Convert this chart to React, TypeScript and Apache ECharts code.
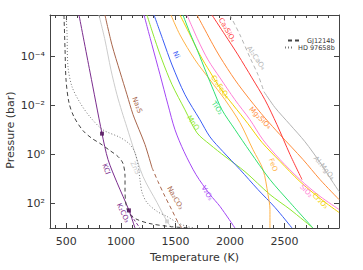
import React, { useEffect, useRef } from "react";
import * as echarts from "echarts";

// ---- axis ranges & ticks ----
const T_MIN = 350;
const T_MAX = 3000;
const P_MIN = 2e-6;
const P_MAX = 1000;
const T_MAJOR = [500, 1000, 1500, 2000, 2500];
const T_MINOR = [400, 600, 700, 800, 900, 1100, 1200, 1300, 1400, 1600, 1700, 1800, 1900, 2100, 2200, 2300, 2400, 2600, 2700, 2800, 2900];
const P_EXP_TICKS = [-4, -2, 0, 2];

// ---- P-T profiles: [T (K), P (bar)] ----
const GJ1214B = [[478, 2e-6], [488, 5.3e-5], [497, 8.9e-4], [524, 7.6e-3], [570, 2.9e-2], [653, 0.106], [735, 0.22], [808, 0.35], [900, 0.69], [973, 1.2], [1019, 2.3], [1038, 7.9], [1038, 32], [1047, 110], [1074, 257], [1148, 447], [1267, 661], [1450, 871], [1634, 1000]];
const HD97658B = [[497, 2e-6], [506, 1.1e-5], [515, 2.6e-4], [552, 1.7e-3], [625, 7.6e-3], [717, 2.9e-2], [836, 9.8e-2], [992, 0.2], [1084, 0.39], [1129, 0.83], [1157, 2.6], [1175, 10.5], [1194, 35], [1239, 91], [1331, 209], [1423, 339], [1514, 589], [1606, 871], [1680, 1000]];

// ---- condensation curves: [T (K), P (bar)] ----
const KCL = [[616, 2e-6], [717, 4.3e-4], [827, 0.14], [882, 1.6], [964, 13.8], [1074, 190], [1129, 1000]];
const K2CO3 = [[1074, 190], [1120, 447], [1175, 1000]];
const ZNS = [[799, 2e-6], [854, 2.1e-5], [909, 3.5e-4], [964, 3.6e-3], [1010, 1.8e-2], [1056, 7.9e-2], [1111, 0.48], [1203, 7.9], [1331, 91], [1423, 537], [1469, 1000]];
const NA2S = [[854, 2e-6], [918, 3.3e-5], [992, 4.2e-4], [1056, 3.6e-3], [1111, 2.3e-2], [1166, 9.5e-2], [1221, 0.39], [1285, 3.4]];
const NA2CO3 = [[1285, 3.4], [1340, 12.6], [1404, 51], [1469, 190], [1524, 589], [1560, 1000]];
const V2O5 = [[1212, 2e-6], [1285, 3.3e-5], [1359, 5.5e-4], [1432, 9.3e-3], [1496, 9.7e-2], [1579, 0.76], [1689, 6.6], [1817, 43], [1909, 132], [2046, 1000]];
const MNO = [[1239, 2e-6], [1313, 2.1e-5], [1377, 1.36e-4], [1469, 1.4e-3], [1588, 1.5e-2], [1698, 0.13], [1817, 0.39], [1955, 1.2], [2138, 5.0], [2367, 43], [2551, 174], [2761, 1000]];
const NI = [[1304, 2e-6], [1386, 2.1e-5], [1469, 2.2e-4], [1588, 3.6e-3], [1725, 3.8e-2], [1817, 0.19], [1936, 0.76], [2092, 4.1], [2257, 27], [2413, 145], [2569, 1000]];
const FEO = [[1459, 2e-6], [1542, 1.3e-5], [1680, 1.36e-4], [1817, 8.9e-4], [1955, 5.8e-3], [2092, 5e-2], [2211, 0.63], [2303, 4.1], [2349, 43], [2367, 174], [2367, 1000]];
const TIO2 = [[1569, 2e-6], [1634, 1.1e-5], [1707, 6.4e-5], [1780, 4.2e-4], [1854, 2.7e-3], [1927, 1.5e-2], [2046, 9.5e-2], [2184, 0.76], [2367, 10.5], [2551, 91], [2761, 1000]];
const CR2FEO4 = [[1542, 2e-6], [1634, 1.3e-5], [1725, 8.5e-5], [1817, 4.2e-4], [1918, 2.2e-3], [2028, 9.3e-3], [2165, 5.5e-2], [2294, 0.32], [2459, 1.9], [2642, 12.7], [2826, 62], [3000, 232]];
const SIO2 = [[1606, 2e-6], [1707, 2.1e-5], [1799, 1.36e-4], [1909, 7.4e-4], [2046, 5.8e-3], [2184, 3.8e-2], [2303, 0.25], [2459, 1.6], [2642, 10.5], [2826, 51], [3000, 174]];
const MG2SIO4 = [[1698, 2e-6], [1771, 8.1e-6], [1845, 3.3e-5], [1909, 1.03e-4], [2046, 8.9e-4], [2184, 5.8e-3], [2321, 3.2e-2], [2459, 0.155], [2670, 1.6], [2826, 10.5], [3000, 69]];
const CA2SIO4 = [[1835, 2e-6], [1955, 1.3e-5], [2074, 8.5e-5], [2202, 7.4e-4], [2321, 5.8e-3], [2431, 6e-2], [2551, 1.0], [2661, 10.5]];
const AL2CAO4 = [[2000, 2e-6], [2092, 1.3e-5], [2184, 1.1e-4], [2257, 5.5e-4], [2312, 2.7e-3]];
const AL2MGO4 = [[2312, 2.7e-3], [2413, 1.2e-2], [2551, 6e-2], [2688, 0.3], [2826, 2.1], [2945, 13.8], [3000, 32]];

// ---- cloud-base markers ----
const KCL_BASES = [[827, 0.14], [1074, 190]];
const ZNS_BASES = [[1423, 537]];

// ---- colours ----
const C = {
  gj: "#444444",
  hd: "#777777",
  kcl: "#7b2d8e",
  kclMark: "#4a0a55",
  zns: "#cccccc",
  na: "#a8664c",
  v: "#a447f5",
  mno: "#8fe830",
  ni: "#3a5cf5",
  feo: "#ffb347",
  tio2: "#30e070",
  cr: "#f2d000",
  sio2: "#ff7fd6",
  mg: "#ff8c3a",
  ca: "#ff3b3b",
  al: "#b4b4b4",
  axis: "#444444",
  text: "#333333",
};

const CURVES = [
  { name: "ZnS", data: ZNS, color: C.zns, dash: "solid" },
  { name: "Na2S", data: NA2S, color: C.na, dash: "solid" },
  { name: "Na2CO3", data: NA2CO3, color: C.na, dash: [4, 3] },
  { name: "KCl", data: KCL, color: C.kcl, dash: "solid" },
  { name: "K2CO3", data: K2CO3, color: C.kcl, dash: [3, 2] },
  { name: "V2O5", data: V2O5, color: C.v, dash: "solid" },
  { name: "MnO", data: MNO, color: C.mno, dash: "solid" },
  { name: "Ni", data: NI, color: C.ni, dash: "solid" },
  { name: "Cr2FeO4", data: CR2FEO4, color: C.cr, dash: "solid" },
  { name: "FeO", data: FEO, color: C.feo, dash: "solid" },
  { name: "TiO2", data: TIO2, color: C.tio2, dash: "solid" },
  { name: "SiO2", data: SIO2, color: C.sio2, dash: "solid" },
  { name: "Mg2SiO4", data: MG2SIO4, color: C.mg, dash: "solid" },
  { name: "Ca2SiO4", data: CA2SIO4, color: C.ca, dash: "solid" },
  { name: "Al2CaO4", data: AL2CAO4, color: C.al, dash: [4, 3] },
  { name: "Al2MgO4", data: AL2MGO4, color: C.al, dash: "solid" },
];

// curve annotations (pixel layout)
const LABELS = [
  { text: "KCl", x: 106, y: 169, rot: -70, color: C.kcl },
  { text: "K₂CO₃", x: 123, y: 213, rot: -65, color: C.kcl },
  { text: "ZnS", x: 135, y: 168, rot: -65, color: C.zns },
  { text: "Na₂S", x: 137, y: 105, rot: -68, color: C.na },
  { text: "Na₂CO₃", x: 175, y: 198, rot: -60, color: C.na },
  { text: "V₂O₅", x: 207, y: 193, rot: -60, color: C.v },
  { text: "MnO", x: 193, y: 123, rot: -55, color: C.mno },
  { text: "Ni", x: 176, y: 55, rot: -65, color: C.ni },
  { text: "Cr₂FeO₄", x: 220, y: 87, rot: -55, color: C.cr },
  { text: "TiO₂", x: 217, y: 108, rot: -55, color: C.tio2 },
  { text: "Ca₂SiO₄", x: 227, y: 30, rot: -60, color: C.ca },
  { text: "Al₂CaO₄", x: 256, y: 58, rot: -55, color: C.al },
  { text: "Mg₂SiO₄", x: 260, y: 118, rot: -45, color: C.mg },
  { text: "FeO", x: 273, y: 165, rot: -70, color: C.feo },
  { text: "SiO₂", x: 306, y: 191, rot: -45, color: C.sio2 },
  { text: "Cr₂O₃", x: 320, y: 201, rot: -45, color: C.cr },
  { text: "Al₂MgO₄", x: 324, y: 168, rot: -50, color: C.al },
];

const SUP: Record<string, string> = { "-": "⁻", "0": "⁰", "1": "¹", "2": "²", "3": "³", "4": "⁴", "5": "⁵", "6": "⁶", "7": "⁷", "8": "⁸", "9": "⁹" };
const toSup = (v: number) => String(Math.round(v)).split("").map((c) => SUP[c] || c).join("");

const FONT = "DejaVu Sans";

export default function App() {
  const ref = useRef<HTMLDivElement>(null);
  useEffect(() => {
    if (!ref.current) return;
    const chart = echarts.init(ref.current, null, { renderer: "svg" });
    const axisLine = { show: true, onZero: false, lineStyle: { color: C.axis, width: 1 } };
    const noLine = { show: false, onZero: false };
    const xBase = { type: "value", min: T_MIN, max: T_MAX, splitLine: { show: false } };
    const yExtent = { min: Math.log10(P_MIN), max: Math.log10(P_MAX), inverse: true, splitLine: { show: false } };
    const tickStyle = { color: C.axis, width: 1 };

    const series: any[] = CURVES.map((c) => ({
      type: "line",
      name: c.name,
      data: c.data,
      xAxisIndex: 0,
      yAxisIndex: 0,
      symbol: "none",
      smooth: 0.3,
      silent: true,
      lineStyle: { color: c.color, width: 1, type: c.dash },
      itemStyle: { color: c.color },
      z: 2,
    }));
    series.push(
      {
        type: "line",
        name: "GJ1214b",
        data: GJ1214B,
        xAxisIndex: 0,
        yAxisIndex: 0,
        symbol: "none",
        smooth: 0.3,
        silent: true,
        lineStyle: { color: C.gj, width: 1, type: [4, 3] },
        itemStyle: { color: C.gj },
        z: 3,
      },
      {
        type: "line",
        name: "HD 97658b",
        data: HD97658B,
        xAxisIndex: 0,
        yAxisIndex: 0,
        symbol: "none",
        smooth: 0.3,
        silent: true,
        lineStyle: { color: C.hd, width: 1, type: [1, 2] },
        itemStyle: { color: C.hd },
        z: 3,
      },
      {
        type: "scatter",
        name: "KCl cloud base",
        data: KCL_BASES,
        xAxisIndex: 0,
        yAxisIndex: 0,
        symbol: "rect",
        symbolSize: 4,
        itemStyle: { color: C.kclMark },
        silent: true,
        z: 5,
      },
      {
        type: "scatter",
        name: "ZnS cloud base",
        data: ZNS_BASES,
        xAxisIndex: 0,
        yAxisIndex: 0,
        symbol: "rect",
        symbolSize: 4,
        itemStyle: { color: C.zns },
        silent: true,
        z: 5,
      }
    );

    const legendCommon = {
      orient: "vertical",
      padding: 0,
      itemHeight: 6,
      itemGap: 0,
      selectedMode: false,
      itemStyle: { color: "rgba(0,0,0,0)", borderWidth: 0, opacity: 0 },
      textStyle: { fontSize: 6.5, fontFamily: FONT, color: C.text },
    };

    const option: any = {
      animation: false,
      backgroundColor: "#ffffff",
      grid: { left: 50, top: 15, right: 24, bottom: 42, containLabel: false },
      xAxis: [
        {
          ...xBase,
          position: "bottom",
          axisLine,
          axisTick: { show: true, inside: true, length: 5, customValues: T_MAJOR, lineStyle: tickStyle },
          axisLabel: {
            show: true,
            customValues: T_MAJOR,
            margin: 8,
            fontSize: 11,
            fontFamily: FONT,
            color: C.text,
            formatter: (v: number) => String(v),
          },
          name: "Temperature (K)",
          nameLocation: "middle",
          nameGap: 21,
          nameTextStyle: { fontSize: 11, fontFamily: FONT, color: C.text },
        },
        {
          ...xBase,
          position: "bottom",
          axisLine: noLine,
          axisTick: { show: true, inside: true, length: 3, customValues: T_MINOR, lineStyle: tickStyle },
          axisLabel: { show: false },
        },
        {
          ...xBase,
          position: "top",
          axisLine,
          axisTick: { show: true, inside: true, length: 5, customValues: T_MAJOR, lineStyle: tickStyle },
          axisLabel: { show: false },
        },
        {
          ...xBase,
          position: "top",
          axisLine: noLine,
          axisTick: { show: true, inside: true, length: 3, customValues: T_MINOR, lineStyle: tickStyle },
          axisLabel: { show: false },
        },
      ],
      yAxis: [
        {
          type: "log",
          logBase: 10,
          min: P_MIN,
          max: P_MAX,
          inverse: true,
          axisLine: noLine,
          axisTick: { show: false },
          axisLabel: { show: false },
          splitLine: { show: false },
        },
        {
          type: "value",
          ...yExtent,
          position: "left",
          axisLine,
          axisTick: { show: true, inside: true, length: 5, customValues: P_EXP_TICKS, lineStyle: tickStyle },
          axisLabel: {
            show: true,
            customValues: P_EXP_TICKS,
            margin: 5,
            fontSize: 11,
            fontFamily: FONT,
            color: C.text,
            formatter: (v: number) => "10" + toSup(v),
          },
        },
        {
          type: "value",
          ...yExtent,
          position: "right",
          axisLine,
          axisTick: { show: true, inside: true, length: 5, customValues: P_EXP_TICKS, lineStyle: tickStyle },
          axisLabel: { show: false },
        },
      ],
      legend: [
        { ...legendCommon, data: ["GJ1214b"], left: 287, top: 37, itemWidth: 14 },
        { ...legendCommon, data: ["HD 97658b"], left: 284, top: 44, itemWidth: 8 },
      ],
      graphic: {
        elements: [
          {
            type: "text",
            x: 10,
            y: 130,
            rotation: Math.PI / 2,
            silent: true,
            style: {
              text: "Pressure (bar)",
              fill: C.text,
              fontSize: 11,
              fontFamily: FONT,
              align: "center",
              verticalAlign: "middle",
              textAlign: "center",
              textVerticalAlign: "middle",
            },
          },
          ...LABELS.map((l) => ({
            type: "text",
            x: l.x,
            y: l.y,
            rotation: (l.rot * Math.PI) / 180,
            silent: true,
            z: 100,
            style: {
              text: l.text,
              fill: l.color,
              fontSize: 7,
              fontFamily: FONT,
              align: "center",
              verticalAlign: "middle",
              textAlign: "center",
              textVerticalAlign: "middle",
            },
          })),
        ],
      },
      series,
    };
    chart.setOption(option);
    return () => chart.dispose();
  }, []);
  return (
    <div
      ref={ref}
      style={{ position: "absolute", left: 0, top: 0, width: 363, height: 270, background: "#fff" }}
    />
  );
}
